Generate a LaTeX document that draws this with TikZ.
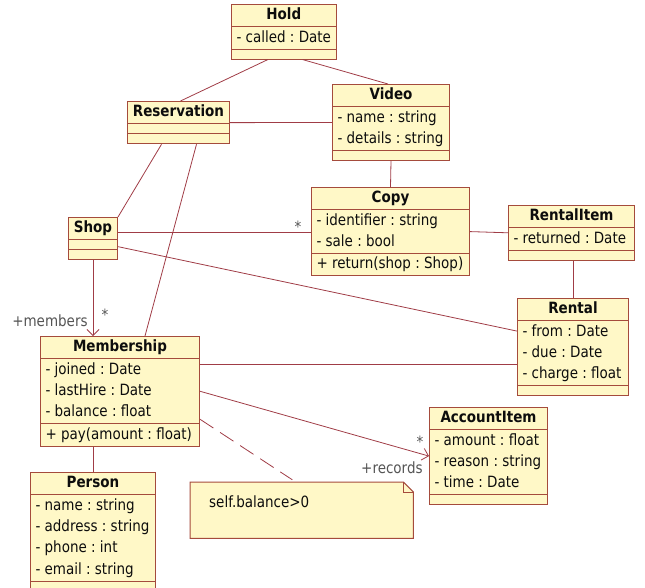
\documentclass[tikz,border=0pt]{standalone}
\usepackage{fontspec}
\setmainfont{DejaVu Sans}[FakeStretch=0.87]
\usetikzlibrary{shapes.multipart,arrows.meta}

\definecolor{umlfill}{RGB}{255,248,199}
\definecolor{umlborder}{RGB}{165,75,60}
\definecolor{umlline}{RGB}{160,60,70}
\definecolor{umlrole}{RGB}{85,85,85}

\newcommand\rs{\rule[-6.5pt]{0pt}{21.3pt}}
\newcommand\er{\rule{0pt}{9pt}}

\tikzset{
  umlclass/.style={rectangle split, rectangle split parts=3, draw=umlborder,
    fill=umlfill, line width=1pt, inner xsep=5pt, inner ysep=0pt,
    anchor=north west, align=left, text=black!95,
    rectangle split part align={center,left,left},
    font=\fontsize{15.5}{21.3}\selectfont\frenchspacing},
  assoc/.style={draw=umlline, line width=0.8pt},
  nav/.style={assoc, -{Straight Barb[length=6pt,width=12pt]}},
  role/.style={text=umlrole, inner sep=0pt, font=\fontsize{15.5}{18}\selectfont},
}

\begin{document}
\begin{tikzpicture}[x=1pt,y=-1pt]
\useasboundingbox (0,0) rectangle (645,588);
\clip (0,0) rectangle (645,588);
% Classes
\node[umlclass, minimum width=104pt] (hold) at (231,4)
  {\rs\textbf{Hold}\nodepart{two}\rs- called : Date\nodepart{three}\er};
\node[umlclass, minimum width=117pt] (video) at (332,84)
  {\rs\textbf{Video}\nodepart{two}\rs- name : string\\\rs- details : string\nodepart{three}\er};
\node[umlclass, minimum width=102pt] (reservation) at (127,101)
  {\rs\textbf{Reservation}\nodepart{two}\er\nodepart{three}\er};
\node[umlclass, minimum width=158pt] (copy) at (311,187)
  {\rs\textbf{Copy}\nodepart{two}\rs- identifier : string\\\rs- sale : bool\nodepart{three}\rs+ return(shop : Shop)};
\node[umlclass, minimum width=126pt] (rentalitem) at (508,205)
  {\rs\textbf{RentalItem}\nodepart{two}\rs- returned : Date\nodepart{three}\er};
\node[umlclass, minimum width=49pt] (shop) at (68,217)
  {\rs\textbf{Shop}\nodepart{two}\er\nodepart{three}\er};
\node[umlclass, minimum width=111pt] (rental) at (517,298)
  {\rs\textbf{Rental}\nodepart{two}\rs- from : Date\\\rs- due : Date\\\rs- charge : float\nodepart{three}\er};
\node[umlclass, minimum width=159pt] (membership) at (40,336)
  {\rs\textbf{Membership}\nodepart{two}\rs- joined : Date\\\rs- lastHire : Date\\\rs- balance : float\nodepart{three}\rs+ pay(amount : float)};
\node[umlclass, minimum width=118pt] (accountitem) at (429,407)
  {\rs\textbf{AccountItem}\nodepart{two}\rs- amount : float\\\rs- reason : string\\\rs- time : Date\nodepart{three}\er};
\node[umlclass, minimum width=125pt] (person) at (30,472)
  {\rs\textbf{Person}\nodepart{two}\rs- name : string\\\rs- address : string\\\rs- phone : int\\\rs- email : string\nodepart{three}\er};
% Note
\node[minimum width=223pt, minimum height=56pt, inner sep=0pt, anchor=north west] (note) at (190,482) {};
\filldraw[fill=umlfill, draw=umlborder, line width=1pt] (note.north west) -- ([xshift=-10pt]note.north east)
  -- ([yshift=-10pt]note.north east) -- (note.south east) -- (note.south west) -- cycle;
\draw[draw=umlborder, line width=1pt] ([xshift=-10pt]note.north east) |- ([yshift=-10pt]note.north east);
\node[anchor=base west, inner sep=0pt, text=black!95, font=\fontsize{15.5}{18}\selectfont]
  (notetext) at ([xshift=19pt,yshift=-25pt]note.north west) {self.balance>0};
% Associations
\draw[assoc] ([xshift=-16pt]hold.south) -- ([xshift=2pt]reservation.north);
\draw[assoc] ([xshift=19pt]hold.south) -- ([xshift=-3pt]video.north);
\draw[assoc] (reservation.east) -- (video.west);
\draw[assoc] (video.south) -- (copy.north);
\draw[assoc] ([xshift=-17pt]reservation.south) -- (shop.north east);
\draw[assoc] ([xshift=18pt]reservation.south) -- ([xshift=25pt]membership.north);
\draw[assoc] ([yshift=6pt]shop.east) -- ([yshift=6pt]shop.east -| copy.west)
  node[role, anchor=base, xshift=-13pt] {*};
\draw[assoc] ([yshift=-8pt]shop.east) -- ([yshift=16pt]rental.west);
\draw[assoc] (copy.east) -- (rentalitem.west);
\draw[assoc] (rental.north |- rentalitem.south) -- (rental.north);
\draw[nav] (shop.south) -- (shop.south |- membership.north)
  node[role, anchor=base east, xshift=-5pt, yshift=10pt] {+members}
  node[role, anchor=base, xshift=12pt, yshift=16pt] {*};
\draw[assoc] ([yshift=27pt]membership.east) -- ([yshift=27pt]membership.east -| rental.west);
\draw[nav] (membership.east) -- (accountitem.west)
  node[role, anchor=base, xshift=-9pt, yshift=9pt] {*}
  node[role, anchor=base east, xshift=-6pt, yshift=-17pt] {+records};
\draw[assoc, dash pattern=on 16pt off 8pt, shorten >=4pt] ([yshift=-28pt]membership.east) -- ([xshift=-6pt]note.north);
\draw[assoc] (person.north |- membership.south) -- (person.north);
\end{tikzpicture}
\end{document}
